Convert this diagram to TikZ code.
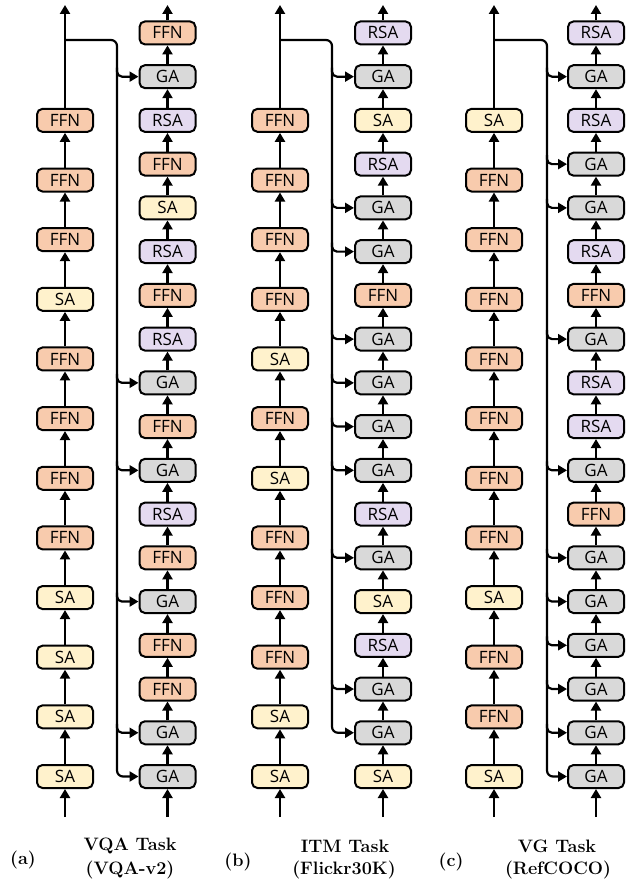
\documentclass[tikz,border=0pt]{standalone}
\usepackage{fontspec}
\newfontfamily\boxfont{Open Sans}
\usetikzlibrary{arrows.meta,calc}
\definecolor{ffnc}{HTML}{F8CBAD}
\definecolor{sac}{HTML}{FFF2CC}
\definecolor{rsac}{HTML}{E4DAF0}
\definecolor{gac}{HTML}{D9D9D9}
\tikzset{
  blk/.style={draw=black, line width=2pt, rounded corners=5.5pt, minimum width=56pt,
    minimum height=23pt, inner sep=0pt, font=\boxfont\fontsize{17}{17}\selectfont},
  FFN-box/.style={blk, fill=ffnc},
  SA-box/.style={blk, fill=sac},
  RSA-box/.style={blk, fill=rsac},
  GA-box/.style={blk, fill=gac},
  arr/.style={line width=2.2pt, -{Triangle[length=9pt,width=10pt]}},
  captxt/.style={font=\bfseries\fontsize{18}{18}\selectfont, inner sep=0pt},
}
\newcommand\drawpanel[8]{%
  \foreach \t [count=\i] in {#5} {\node[\t-box] (#1L\i) at (#2,{776.5-(\i-1)*59.65}) {\t};}
  \foreach \t [count=\i] in {#6} {\node[\t-box] (#1R\i) at (#4,{776.5-(\i-1)*43.74}) {\t};}
  \foreach \i [count=\j from 2] in {1,...,11} {\draw[arr] (#1L\i) -- (#1L\j);}
  \foreach \i [count=\j from 2] in {1,...,17} {\draw[arr] (#1R\i) -- (#1R\j);}
  \coordinate (#1Lin) at (#2,817);
  \coordinate (#1Rin) at (#4,817);
  \coordinate (#1Lout) at (#2,5);
  \coordinate (#1Rout) at (#4,5);
  \coordinate (#1B) at (#2,40);
  \coordinate (#1S) at (#3,40);
  \draw[arr] (#1Lin) -- (#1L1);
  \draw[arr] (#1Rin) -- (#1R1);
  \draw[arr] (#1L12) -- (#1Lout);
  \draw[arr] (#1R18) -- (#1Rout);
  \draw[arr, rounded corners=6pt] (#1B) -| (#1S |- #1R#7.west) -- (#1R#7.west);
  \foreach \k in {#8} {\draw[arr, rounded corners=5pt] ($(#1S |- #1R\k.west)+(0,-9)$) |- (#1R\k.west);}
}
\begin{document}
\begin{tikzpicture}[x=1pt,y=-1pt]
\useasboundingbox (0,0) rectangle (631,883);
\drawpanel{a}{65}{117}{167.5}
  {SA,SA,SA,SA,FFN,FFN,FFN,FFN,SA,FFN,FFN,FFN}
  {GA,GA,FFN,FFN,GA,FFN,RSA,GA,FFN,GA,RSA,FFN,RSA,SA,FFN,RSA,GA,FFN}
  {1}{2,5,8,10,17}
\drawpanel{b}{280}{332}{383}
  {SA,SA,FFN,FFN,FFN,SA,FFN,SA,FFN,FFN,FFN,FFN}
  {SA,GA,GA,RSA,SA,GA,RSA,GA,GA,GA,GA,FFN,GA,GA,RSA,SA,GA,RSA}
  {2}{3,6,8,9,10,11,13,14,17}
\drawpanel{c}{494}{547}{596}
  {SA,FFN,FFN,SA,FFN,FFN,FFN,FFN,FFN,FFN,FFN,SA}
  {GA,GA,GA,GA,GA,GA,FFN,GA,RSA,RSA,GA,FFN,RSA,GA,GA,RSA,GA,RSA}
  {1}{2,3,4,5,6,8,11,14,15,17}
\node[captxt] (capa) at (23,860) {(a)};
\node[captxt] (tita) at (130,846) {VQA Task};
\node[captxt] (data) at (130,870) {(VQA-v2)};
\node[captxt] (capb) at (238,862) {(b)};
\node[captxt] (titb) at (345,846) {ITM Task};
\node[captxt] (datb) at (344,870) {(Flickr30K)};
\node[captxt] (capc) at (451,862) {(c)};
\node[captxt] (titc) at (557,846) {VG Task};
\node[captxt] (datc) at (558,870) {(RefCOCO)};
\end{tikzpicture}
\end{document}
